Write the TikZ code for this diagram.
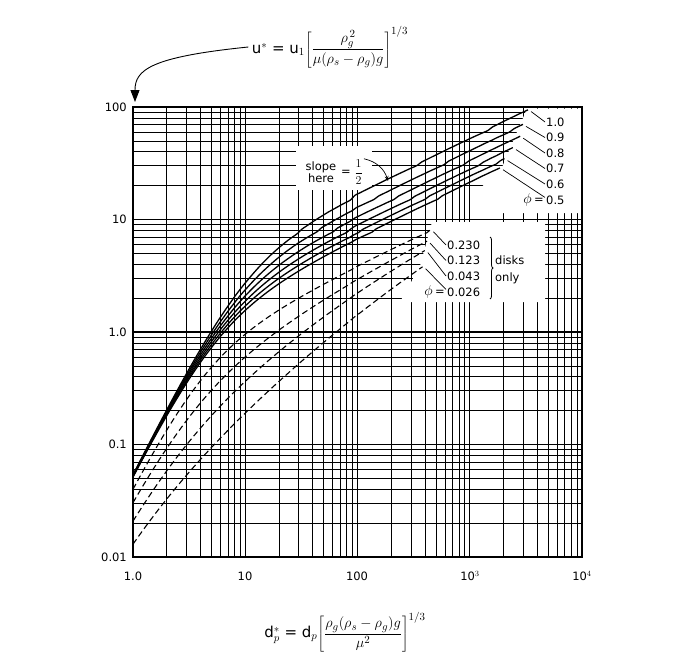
\documentclass[tikz,border=0pt]{standalone}
\usepackage{fontspec}
\setmainfont{DejaVu Sans}
\usetikzlibrary{arrows.meta,decorations.pathreplacing}
\begin{document}
\begin{tikzpicture}[x=1pt,y=-1pt,
  minor/.style={line width=0.7pt},
  major/.style={line width=1.1pt},
  curve/.style={line width=1.3pt},
  dcurve/.style={line width=1.1pt,dash pattern=on 6pt off 3.5pt},
  lead/.style={line width=0.7pt},
  lab/.style={font=\fontsize{11.5}{12}\selectfont,inner sep=1pt},
  blank/.style={fill=white,draw=none}]
\useasboundingbox (0,0) rectangle (685,667);
% grid
\foreach \n in {0,1,2,3}{
  \foreach \k in {2,...,9}{
    \pgfmathsetmacro\xx{133+112.25*(\n+log10(\k))}
    \pgfmathsetmacro\yy{557-112.5*(\n+log10(\k))}
    \draw[minor] (\xx,107) -- (\xx,557);
    \draw[minor] (133,\yy) -- (582,\yy);
  }
  \pgfmathsetmacro\xx{133+112.25*\n}
  \pgfmathsetmacro\yy{557-112.5*\n}
  \draw[major] (\xx,107) -- (\xx,557);
  \draw[major] (133,\yy) -- (582,\yy);
}
% blank label areas
\fill[blank] (527,108.5) -- (581.5,108.5) -- (581.5,213) -- (470,213) -- (470,196) -- (500,172) -- cycle;
\fill[blank] (432,222) -- (545,222) -- (545,302) -- (400,302) -- (420,266) -- cycle;
\fill[blank] (296,146) -- (372,146) -- (372,190) -- (296,190) -- cycle;
\draw[line width=1.2pt] (133,107) rectangle (582,557);
% solid curves
\foreach \b/\xe/\nm in {0.591/3.52/a,0.7654/3.474/b,0.9398/3.45/c,1.1142/3.385/d,1.2886/3.31/e,1.463/3.27/f}{
  \draw[curve] plot[domain=0:\xe,samples=90,smooth]
    ({133+112.25*\x},{557-112.5*(2-log10(18*10^(-2*\x)+\b*10^(-0.5*\x)))});
  \pgfmathsetmacro\ex{133+112.25*\xe}
  \pgfmathsetmacro\ey{557-112.5*(2-log10(18*10^(-2*\xe)+\b*10^(-0.5*\xe)))}
  \coordinate (s\nm) at (\ex+3,\ey+2);
}
% dashed curves
\foreach \a/\c/\b/\xe/\nm in {22.4/0/2.6/2.65/p,25/5/2.9/2.62/q,30/15/3.0/2.60/r,34.5/39.3/3.11/2.58/s}{
  \draw[dcurve] plot[domain=0:\xe,samples=80,smooth]
    ({133+112.25*\x},{557-112.5*(2-log10(\a*10^(-2*\x)+\c*10^(-\x)+\b*10^(-0.5*\x)))});
  \pgfmathsetmacro\ex{133+112.25*\xe}
  \pgfmathsetmacro\ey{557-112.5*(2-log10(\a*10^(-2*\xe)+\c*10^(-\xe)+\b*10^(-0.5*\xe)))}
  \coordinate (d\nm) at (\ex+3,\ey+2);
}
% solid labels
\node[lab,anchor=west] (la) at (545,122) {1.0};
\node[lab,anchor=west] (lb) at (545,137.5) {0.9};
\node[lab,anchor=west] (lc) at (545,153) {0.8};
\node[lab,anchor=west] (ld) at (545,168.5) {0.7};
\node[lab,anchor=west] (le) at (545,184) {0.6};
\node[lab,anchor=west] (lf) at (545,200) {0.5};
\node[lab,anchor=east] (phi1) at (lf.west) {\fontsize{15}{15}\selectfont$\phi$\,\fontsize{11.5}{12}\selectfont= };
\foreach \nm in {a,b,c,d,e}{\draw[lead] (s\nm) -- (l\nm.west);}
\draw[lead] (sf) -- ([yshift=-3pt]lf.north west);
% dashed labels
\node[lab,anchor=west] (lp) at (446,245) {0.230};
\node[lab,anchor=west] (lq) at (446,260.5) {0.123};
\node[lab,anchor=west] (lr) at (446,276) {0.043};
\node[lab,anchor=west] (ls) at (446,292) {0.026};
\node[lab,anchor=east] (phi2) at (ls.west) {\fontsize{15}{15}\selectfont$\phi$\,\fontsize{11.5}{12}\selectfont= };
\foreach \nm in {p,q,r}{\draw[lead] (d\nm) -- (l\nm.west);}
\draw[lead] (ds) -- ([yshift=-3pt]ls.north west);
\draw[line width=0.8pt,decorate,decoration={brace,amplitude=3pt}] (490,237) -- (490,299);
\node[lab,anchor=west] (disks) at (494,260) {disks};
\node[lab,anchor=west] (only) at (494,278) {only};
% slope label
\node[lab,align=center] (slope) at (321,172) {slope\\here};
\node[lab,anchor=west] (half) at (340,172) {= $\displaystyle\frac{1}{2}$};
\coordinate (slopept) at (388,181);
\draw[lead,-{Stealth[length=5pt]}] (half.north east) to[bend left=30] (slopept);
% axis labels
\foreach \t/\v in {100/0,10/1,1.0/2,0.1/3,0.01/4}{
  \node[lab,anchor=east] (ya\v) at (128,107+112.5*\v) {\t};
}
\node[lab] (x0) at (133,576) {1.0};
\node[lab] (x1) at (245,576) {10};
\node[lab] (x2) at (357,576) {100};
\node[lab] (x3) at (470,576) {10$^3$};
\node[lab] (x4) at (582,576) {10$^4$};
% formulas
\node[font=\fontsize{15}{15}\selectfont] (uf) at (330,47) {u$^*$ = u$_1$$\left[\displaystyle\frac{\rho_g^{\,2}}{\mu(\rho_s-\rho_g)g}\right]^{1/3}$};
\coordinate (arrtip) at (135,102);
\draw[line width=0.9pt,-{Triangle[length=12pt,width=9pt]}] (uf.west) .. controls (150,57) and (135,70) .. (arrtip);
\node[font=\fontsize{15}{15}\selectfont] (df) at (345,632) {d$_p^*$ = d$_p$$\left[\displaystyle\frac{\rho_g(\rho_s-\rho_g)g}{\mu^2}\right]^{1/3}$};
\end{tikzpicture}
\end{document}
